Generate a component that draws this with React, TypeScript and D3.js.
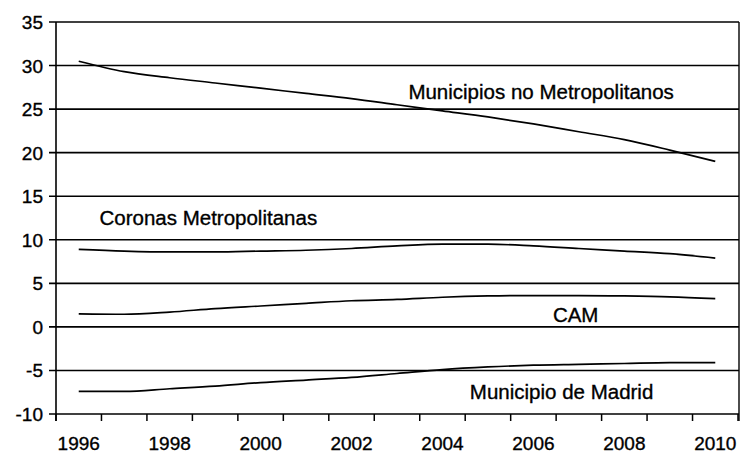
import React from "react";
import * as d3 from "d3";

const years = [1996, 1997, 1998, 1999, 2000, 2001, 2002, 2003, 2004, 2005, 2006, 2007, 2008, 2009, 2010];
const xTickLabels = ["1996", "1998", "2000", "2002", "2004", "2006", "2008", "2010"];
const yTicks = [-10, -5, 0, 5, 10, 15, 20, 25, 30, 35];

const noMetropolitanos = [30.5, 29.3, 28.6, 28.0, 27.4, 26.8, 26.2, 25.5, 24.8, 24.1, 23.3, 22.4, 21.5, 20.3, 19.0];
const coronas = [8.9, 8.7, 8.6, 8.6, 8.7, 8.8, 9.0, 9.3, 9.5, 9.5, 9.3, 9.0, 8.7, 8.4, 7.9];
const cam = [1.5, 1.45, 1.7, 2.1, 2.4, 2.7, 3.0, 3.15, 3.4, 3.55, 3.6, 3.6, 3.55, 3.45, 3.25];
const madrid = [-7.4, -7.4, -7.1, -6.8, -6.4, -6.1, -5.8, -5.35, -4.9, -4.6, -4.4, -4.3, -4.2, -4.1, -4.1];

const seriesList = [
  { name: "Municipios no Metropolitanos", values: noMetropolitanos },
  { name: "Coronas Metropolitanas", values: coronas },
  { name: "CAM", values: cam },
  { name: "Municipio de Madrid", values: madrid },
];

const labels = [
  { text: "Municipios no Metropolitanos", year: 2006.17, value: 26.2 },
  { text: "Coronas Metropolitanas", year: 1998.85, value: 11.7 },
  { text: "CAM", year: 2006.93, value: 0.56 },
  { text: "Municipio de Madrid", year: 2006.62, value: -8.28 },
];

const W = 741;
const H = 456;
const left = 56;
const right = 738;
const top = 22;
const bottom = 414;

export default function App() {
  const x = d3.scaleBand<number>().domain(years).range([left, right]).paddingInner(0).paddingOuter(0);
  const bw = x.bandwidth();
  const cx = (yr: number) => left + (yr - years[0]) * bw + bw / 2;
  const y = d3.scaleLinear().domain([-10, 35]).range([bottom, top]);
  const line = d3
    .line<number>()
    .x((_, i) => (x(years[i]) as number) + bw / 2)
    .y((v) => y(v))
    .curve(d3.curveMonotoneX);

  const tickXs = years.map((yr) => x(yr) as number).concat([right]);
  const font = "'Liberation Sans', Arial, Helvetica, sans-serif";
  const textStroke = { stroke: "#000", strokeWidth: 0.35 };

  return (
    <svg
      width={W}
      height={H}
      style={{ position: "absolute", left: 0, top: 0, background: "#fff" }}
      fontFamily={font}
    >
      {yTicks.map((t) => (
        <g key={t}>
          <line x1={left - 7} x2={right + 1} y1={y(t)} y2={y(t)} stroke="#000" strokeWidth={1.6} />
          <text x={43} y={y(t) + 7} textAnchor="end" fontSize={19} fill="#000" {...textStroke}>
            {t}
          </text>
        </g>
      ))}
      <line x1={left} x2={left} y1={top} y2={bottom + 7} stroke="#000" strokeWidth={1.6} />
      <line x1={right + 1} x2={right + 1} y1={top} y2={bottom + 7} stroke="#000" strokeWidth={1.4} />
      {tickXs.map((tx, i) => (
        <line key={i} x1={tx} x2={tx} y1={bottom} y2={bottom + 7} stroke="#000" strokeWidth={1.5} />
      ))}
      {xTickLabels.map((lab) => (
        <text
          key={lab}
          x={(x(+lab) as number) + bw / 2}
          y={450}
          textAnchor="middle"
          fontSize={19}
          fill="#000"
          {...textStroke}
        >
          {lab}
        </text>
      ))}
      {seriesList.map((s) => (
        <path key={s.name} d={line(s.values) || ""} fill="none" stroke="#000" strokeWidth={1.7} />
      ))}
      {labels.map((l) => (
        <text
          key={l.text}
          x={cx(l.year)}
          y={y(l.value)}
          textAnchor="middle"
          fontSize={20.5}
          fill="#000"
          {...textStroke}
        >
          {l.text}
        </text>
      ))}
    </svg>
  );
}
